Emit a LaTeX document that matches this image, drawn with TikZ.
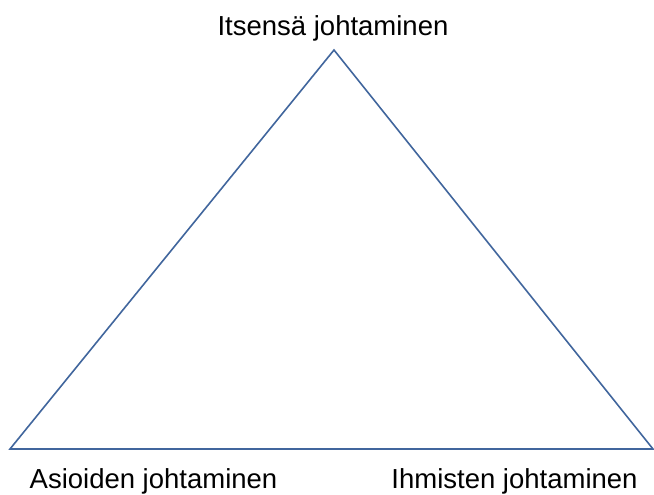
\documentclass[tikz,border=0pt]{standalone}
\usepackage{fontspec}
\setmainfont{Liberation Sans}
\usetikzlibrary{positioning}
\definecolor{edgeblue}{HTML}{41669D}
\begin{document}
\begin{tikzpicture}[
		x=1pt, y=-1pt,
		L/.style = {inner sep=0pt, anchor=base,% styles of labels
			font=\fontsize{27.5}{33}\selectfont},
		E/.style = {draw=edgeblue, line width=1.6pt, line join=miter},
		]
		\useasboundingbox (0,0) rectangle (654,495);
		\coordinate (top) at (334,50);
		\coordinate (left) at (10,449);
		\coordinate (right) at (653,449);
		\draw[E] (top) -- (right) -- (left) -- cycle;
		\node[L] (self) at (333,36) {Itsensä johtaminen};
		\node[L] (tasks) at (153.5,488) {Asioiden johtaminen};
		\node[L] (people) at (514.5,488) {Ihmisten johtaminen};
	\end{tikzpicture}
\end{document}
